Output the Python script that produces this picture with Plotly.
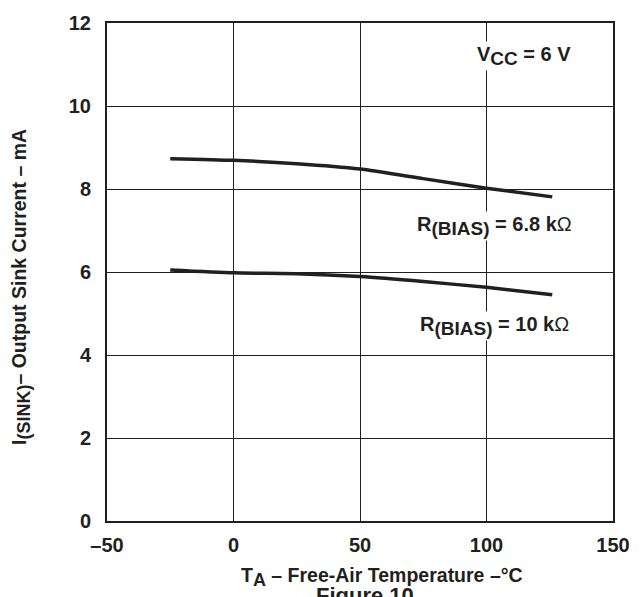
import plotly.graph_objects as go

temp_68k = [-25, 0, 25, 50, 75, 100, 126]
isink_68k = [8.73, 8.69, 8.61, 8.48, 8.25, 8.02, 7.81]
temp_10k = [-25, 0, 25, 50, 75, 100, 126]
isink_10k = [6.05, 5.98, 5.96, 5.89, 5.77, 5.63, 5.45]

x_ticks = [-50, 0, 50, 100, 150]
x_tick_labels = ["\u201350", "0", "50", "100", "150"]
y_ticks = [0, 2, 4, 6, 8, 10, 12]

FONT = "Liberation Sans, Arial, sans-serif"
INK = "#231f20"

def sub(t, size=17):
    return "<sub><span style='font-size:%dpx'>%s</span></sub>" % (size, t)

fig = go.Figure()
fig.add_trace(go.Scatter(x=temp_68k, y=isink_68k, mode="lines", line=dict(color=INK, width=3.5, shape="spline", smoothing=0.6), showlegend=False))
fig.add_trace(go.Scatter(x=temp_10k, y=isink_10k, mode="lines", line=dict(color=INK, width=3.5, shape="spline", smoothing=0.6), showlegend=False))

fig.update_layout(
    width=644, height=597,
    margin=dict(l=107, r=31, t=17, b=76),
    paper_bgcolor="white", plot_bgcolor="white",
    font=dict(family=FONT, color=INK, size=19),
    xaxis=dict(range=[-50, 150], tickvals=x_ticks, ticktext=x_tick_labels,
               showgrid=True, gridcolor=INK, gridwidth=1, zeroline=False,
               showline=True, linecolor=INK, linewidth=2, mirror=True, ticks="",
               tickfont=dict(size=20, family=FONT, weight="bold"), ticklabelstandoff=5),
    yaxis=dict(range=[0, 12], tickvals=y_ticks,
               showgrid=True, gridcolor=INK, gridwidth=1, zeroline=False,
               showline=True, linecolor=INK, linewidth=2, mirror=True, ticks="",
               tickfont=dict(size=20, family=FONT, weight="bold"), ticklabelstandoff=10),
)

# axis titles (placed as annotations to match the reference's offsets)
fig.add_annotation(x=0.5, y=0, xref="paper", yref="paper", xanchor="center", yanchor="middle",
                   xshift=22, yshift=-56,
                   text="<b>T" + sub("A", 18) + " \u2013 Free-Air Temperature \u2013\u00b0C</b>",
                   showarrow=False, font=dict(size=19.5, family=FONT, color=INK))
fig.add_annotation(x=0, y=0.5, xref="paper", yref="paper", xanchor="center", yanchor="middle",
                   xshift=-86, yshift=-15, textangle=-90,
                   text="<b>I" + sub("(SINK)", 18) + "\u2013 Output Sink Current \u2013 mA</b>",
                   showarrow=False, font=dict(size=19.5, family=FONT, color=INK))

def label(x, y, text):
    fig.add_annotation(x=x, y=y, xref="x", yref="y", text=text, showarrow=False,
                       bgcolor="white", font=dict(size=20, family=FONT, color=INK))

label(115, 11.2, "<b>V" + sub("CC", 19) + " = 6 V</b>")
label(103, 7.1, "<b>R" + sub("(BIAS)", 19) + " = 6.8 k</b>\u03a9")
label(103, 4.7, "<b>R" + sub("(BIAS)", 19) + " = 10 k</b>\u03a9")

fig.add_annotation(x=0.5, y=-0.12, xref="paper", yref="paper", yanchor="top", xshift=5, text="<b>Figure 10</b>",
                   showarrow=False, font=dict(size=22, family=FONT, color=INK))

fig.write_html("out.html")
